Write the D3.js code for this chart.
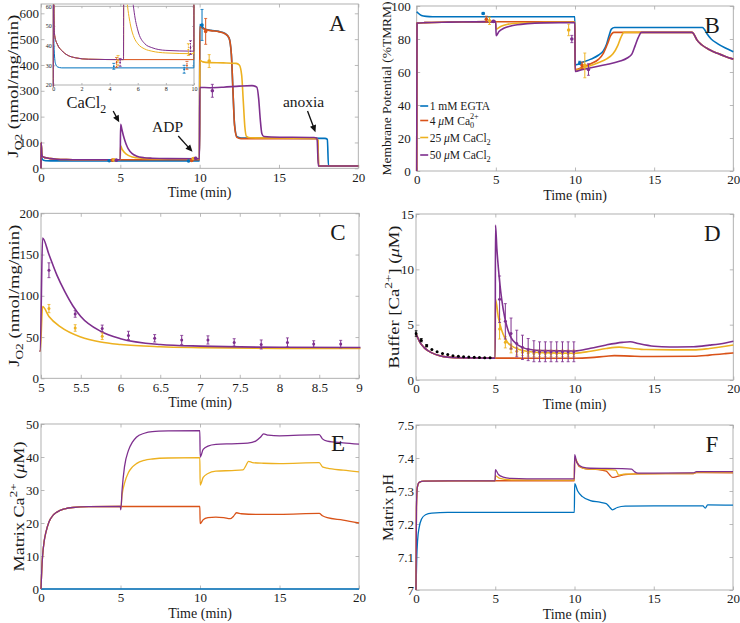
<!DOCTYPE html>
<html>
<head>
<meta charset="utf-8">
<script src="https://cdn.jsdelivr.net/npm/d3@7"></script>
<style>
  body { margin: 0; background: #fff; }
  svg text { font-family: "Liberation Serif", "Times New Roman", Times, serif; fill: #1a1a1a; }
</style>
</head>
<body>
<svg id="fig" width="740" height="623"></svg>
<script>

// series colours: 1 mM EGTA, 4 uM Ca0, 25 uM CaCl2, 50 uM CaCl2
const colors = ['#0072BD', '#D95319', '#EDB120', '#7E2F8E'];

// ---- A: J_O2 (nmol/mg/min) vs time (min)
const aPre = [[0, 0], [0.01, 100], [0.05, 55], [0.1, 45], [0.3, 40.5], [0.6, 37.5], [1, 35.2],
  [1.6, 33.8], [2.5, 33.1], [4.99, 32.9]];
const aBlue = [[0, 0], [0.01, 100], [0.05, 40], [0.15, 31], [0.3, 29.2], [0.6, 28.7], [9.99, 28.7],
  [10.01, 556], [10.3, 540], [10.7, 534], [11.2, 530], [11.6, 522], [11.85, 505], [12.0, 440],
  [12.1, 300], [12.2, 170], [12.35, 122], [12.6, 117], [15, 117], [17.9, 116], [18.05, 112],
  [18.12, 10], [20, 9]];
const aOrange = aPre.concat([[9.99, 32.9], [10.01, 548], [10.3, 538], [10.7, 533], [11.2, 529],
  [11.6, 521], [11.85, 505], [12.0, 440], [12.1, 300], [12.2, 165], [12.35, 120], [12.6, 115],
  [15, 115], [17.35, 115], [17.45, 108], [17.5, 9], [20, 9]]);
const aYellow = aPre.concat([[5.02, 87], [5.1, 75], [5.25, 62], [5.5, 50], [5.75, 44], [6, 41],
  [6.5, 38.3], [7, 37.2], [8, 36.3], [9.99, 35.9], [10.01, 418], [10.2, 412], [10.6, 409],
  [11.5, 408], [12.3, 406], [12.5, 400], [12.65, 360], [12.75, 260], [12.85, 160], [12.95, 124],
  [13.2, 118], [15, 117], [17.35, 116], [17.45, 108], [17.5, 9], [20, 9]]);
const aPurple = aPre.concat([[5.02, 170], [5.1, 150], [5.2, 125], [5.3, 105], [5.4, 88], [5.5, 75],
  [5.75, 57], [6, 48], [6.5, 41], [7, 39], [8, 37.6], [9.99, 37.2], [10.01, 313], [10.6, 312],
  [11.5, 314], [12.5, 318], [13.3, 320], [13.6, 314], [13.72, 270], [13.82, 190], [13.92, 135],
  [14.05, 123], [14.5, 121], [17.2, 119], [17.4, 116], [17.48, 9], [20, 9]]);
// measured points [t, mean, sd]
const aMarkBlue = [[4.3, 29.5, 1.5], [9.3, 28, 2], [10.15, 555, 60]];
const aMarkOrange = [[4.5, 31.5, 2.5], [9.5, 30, 2], [10.38, 530, 50]];
const aMarkYellow = [[4.6, 32.5, 2.5], [9.6, 38, 3], [10.6, 415, 25]];
const aMarkPurple = [[4.75, 31.5, 2], [9.75, 39, 3.5], [10.8, 300, 25]];
// annotations [text, subscript, textT, textV, fromT, fromV, toT, toV]
const aNotes = [
  ['CaCl', '2', 1.6, 235, 4.55, 222, 4.93, 178],
  ['ADP', '', 7.0, 140, 8.65, 125, 9.55, 64],
  ['anoxia', '', 15.25, 237, 16.8, 222, 17.3, 140]
];

// ---- B: membrane potential (%TMRM)
const bBlue = [[0, 96.5], [0.1, 95.6], [0.3, 94.3], [0.6, 93.7], [1, 93.5], [9.99, 93.5],
  [10.01, 64.3], [10.5, 66], [11, 67.8], [11.5, 70.3], [11.8, 73], [12.0, 77], [12.15, 82],
  [12.3, 86], [12.5, 87], [18.05, 87], [18.2, 85.5], [18.35, 83], [18.6, 80], [19, 77.2],
  [19.5, 74.5], [20, 72.3]];
const bPre = [[0, 0], [0.02, 89.6], [0.5, 89.9], [2, 90.2], [4.99, 90.5]];
const bTail = [[17.4, 84], [17.5, 83], [17.7, 79.5], [18, 76.5], [18.5, 73.5], [19, 71.3],
  [19.5, 69.4], [20, 67.8]];
const bOrange = bPre.concat([[9.99, 90.5], [10.01, 61.5], [10.5, 63], [11, 65], [11.5, 67.8],
  [11.8, 71.5], [12.05, 77], [12.25, 82], [12.45, 84]], bTail);
const bYellow = bPre.concat([[5.02, 86], [5.3, 87.6], [5.7, 88.8], [6.5, 89.7], [8, 90.1],
  [9.99, 90.3], [10.01, 61], [10.5, 62.5], [11, 64], [11.5, 65.8], [12, 68], [12.4, 71],
  [12.7, 76], [12.9, 81], [13.1, 84]], bTail);
const bPurple = bPre.concat([[5.02, 82], [5.2, 84.5], [5.5, 86.5], [6, 88], [7, 89.3], [8, 89.8],
  [9.99, 90], [10.01, 60.3], [10.5, 61.6], [11, 62.6], [12, 64.5], [12.8, 66.5], [13.3, 68.5],
  [13.6, 71], [13.8, 76], [14.0, 81], [14.2, 84]], bTail);
const bMarkBlue = [[4.2, 95.5, 0.6], [10.3, 65.5, 1]];
const bMarkOrange = [[4.4, 92, 1.8], [10.45, 64, 2]];
const bMarkYellow = [[4.6, 91, 2.2], [9.6, 85.5, 3.5], [10.62, 64, 7.5]];
const bMarkPurple = [[4.85, 90.7, 0.6], [9.8, 80, 2.2], [10.85, 61.5, 3.5]];
const legendLabels = [
  [['1 mM EGTA', '']],
  [['4 ', ''], ['μ', 'it'], ['M Ca', ''], ['0', 'sub'], ['2+', 'supback']],
  [['25 ', ''], ['μ', 'it'], ['M CaCl', ''], ['2', 'sub']],
  [['50 ', ''], ['μ', 'it'], ['M CaCl', ''], ['2', 'sub']]
];

// ---- C: J_O2 close-up 5-9 min (same model traces as A)
const cMarkPurple = [[5.1, 131, 9], [5.43, 78, 4], [5.77, 60.5, 4], [6.1, 52, 5], [6.43, 48.5, 4.5],
  [6.77, 46.5, 5.5], [7.1, 46.5, 5], [7.43, 43.5, 4.5], [7.77, 41, 5.5], [8.1, 43.5, 5.5],
  [8.43, 41.5, 4], [8.77, 41.5, 4.5]];
const cMarkYellow = [[5.1, 84.5, 5], [5.43, 61, 4], [5.77, 51, 4]];

// ---- D: buffer [Ca2+] (uM)
const dPre = [[0, 4.2], [0.25, 3.4], [0.5, 2.95], [0.75, 2.65], [1, 2.45], [1.5, 2.2], [2, 2.07],
  [3, 2.0], [4.99, 1.98]];
const dOrange = dPre.concat([[7, 1.97], [10, 1.97], [11, 2.02], [12, 2.15], [12.5, 2.2],
  [13.5, 2.16], [15, 2.12], [17.5, 2.15], [18.5, 2.25], [19.5, 2.38], [20, 2.45]]);
const dYellow = dPre.concat([[5.01, 7.3], [5.2, 5.6], [5.4, 4.5], [5.6, 3.8], [5.8, 3.35],
  [6, 3.1], [6.5, 2.75], [7, 2.6], [8, 2.47], [10, 2.42], [11, 2.6], [12, 2.85], [12.8, 2.97],
  [13.5, 2.87], [14.5, 2.75], [17.5, 2.72], [18.5, 2.85], [19.5, 3.05], [20, 3.17]]);
const dPurple = dPre.concat([[5.01, 14], [5.1, 11.8], [5.2, 10], [5.3, 8.5], [5.4, 7.3], [5.6, 5.6],
  [5.8, 4.5], [6, 3.8], [6.3, 3.3], [6.7, 2.95], [7.2, 2.75], [8, 2.65], [10, 2.62], [11, 2.87],
  [12, 3.17], [13, 3.4], [13.5, 3.46], [14, 3.3], [15, 3.05], [16, 2.98], [17.5, 3.0],
  [18.5, 3.15], [19.5, 3.35], [20, 3.5]]);
const dMarkBlack = [[0, 4.2, 0.25], [0.33, 3.6, 0.15], [0.67, 3.1, 0.1], [1, 2.75, 0], [1.33, 2.55, 0],
  [1.67, 2.4, 0], [2, 2.3, 0], [2.33, 2.2, 0], [2.67, 2.15, 0], [3, 2.1, 0], [3.33, 2.07, 0],
  [3.67, 2.05, 0], [4, 2.03, 0], [4.33, 2.02, 0], [4.67, 2.0, 0]];
const dMarkYellow = [[5.27, 4.6, 0.9], [5.63, 3.4, 0.5], [5.99, 2.85, 0.4], [6.35, 2.6, 0.35],
  [6.71, 2.5, 0.3], [7.07, 2.45, 0.3], [7.43, 2.4, 0.3], [7.79, 2.4, 0.3], [8.15, 2.4, 0.3],
  [8.51, 2.4, 0.3], [8.87, 2.4, 0.3], [9.23, 2.4, 0.3], [9.59, 2.4, 0.3], [9.95, 2.4, 0.3]];
const dMarkPurple = [[5.27, 7.3, 2.1], [5.63, 5.3, 1.6], [5.99, 4.2, 1.4], [6.35, 3.3, 1.2],
  [6.71, 2.95, 1.1], [7.07, 2.75, 1.0], [7.43, 2.6, 0.95], [7.79, 2.55, 0.9], [8.15, 2.55, 0.9],
  [8.51, 2.55, 0.9], [8.87, 2.55, 0.9], [9.23, 2.55, 0.9], [9.59, 2.55, 0.9], [9.95, 2.55, 0.9]];

// ---- E: matrix Ca2+ (uM)
const ePre = [[0, 0], [0.05, 6], [0.1, 10], [0.2, 14.5], [0.3, 17], [0.5, 20.3], [0.75, 22.3],
  [1, 23.3], [1.5, 24.3], [2, 24.7], [3, 24.95], [4.99, 25]];
const eBlue = [[0, 0], [20, 0]];
const eOrange = ePre.concat([[9.99, 25], [10.01, 19.8], [10.2, 21], [10.5, 21.6], [11, 21.8],
  [11.5, 21.6], [11.9, 21.3], [12.1, 22], [12.3, 23.1], [12.6, 22.8], [13.5, 22.6], [15, 22.6],
  [17.5, 22.9], [17.7, 22.2], [18, 21.6], [19, 20.9], [20, 20]]);
const eYellow = ePre.concat([[5.02, 24.5], [5.1, 28.5], [5.25, 32], [5.5, 35.3], [5.75, 37],
  [6, 38], [6.5, 39], [7, 39.4], [8, 39.7], [9.99, 39.8], [10.01, 31.5], [10.2, 33.8], [10.5, 35],
  [11, 35.7], [12, 35.9], [12.7, 36.1], [12.9, 37.5], [13.05, 38.7], [13.3, 38.3], [14, 38.1],
  [15, 38], [17.5, 38.3], [17.7, 37], [18, 36.6], [19, 36], [20, 35.5]]);
const ePurple = ePre.concat([[5.02, 24], [5.1, 30], [5.25, 37], [5.5, 42], [5.75, 44.5], [6, 46],
  [6.5, 47.2], [7, 47.7], [8, 47.9], [9.99, 48], [10.01, 40], [10.2, 42.3], [10.5, 43.3],
  [11, 43.8], [12, 44], [13, 44.2], [13.5, 44.8], [13.8, 46], [14, 47], [14.3, 46.6], [15, 46.4],
  [17.5, 46.8], [17.7, 45.5], [18, 44.8], [19, 44.3], [20, 43.9]]);

// ---- F: matrix pH
const fBlue = [[0, 7.0], [0.05, 7.1], [0.1, 7.15], [0.2, 7.19], [0.35, 7.215], [0.6, 7.228],
  [1, 7.233], [2, 7.235], [9.99, 7.235], [10.01, 7.322], [10.2, 7.3], [10.5, 7.283], [11, 7.271],
  [11.6, 7.266], [12, 7.262], [12.2, 7.252], [12.4, 7.243], [12.7, 7.25], [13.2, 7.254],
  [15, 7.255], [18.1, 7.255], [18.25, 7.248], [18.4, 7.258], [20, 7.257]];
const fPre = [[0, 7.0], [0.03, 7.25], [0.08, 7.31], [0.2, 7.326], [0.5, 7.33], [4.99, 7.331]];
const fOrange = fPre.concat([[9.99, 7.331], [10.01, 7.398], [10.3, 7.374], [10.7, 7.367],
  [11.5, 7.365], [12, 7.36], [12.2, 7.35], [12.4, 7.341], [12.7, 7.344], [13.2, 7.35], [14, 7.352],
  [17.5, 7.353], [17.7, 7.356], [20, 7.355]]);
const fYellow = fPre.concat([[5.01, 7.346], [5.3, 7.338], [6, 7.334], [9.99, 7.333], [10.01, 7.4],
  [10.3, 7.376], [10.8, 7.367], [12, 7.365], [12.6, 7.363], [12.8, 7.348], [13.1, 7.351],
  [14, 7.352], [17.5, 7.353], [17.7, 7.357], [20, 7.357]]);
const fPurple = fPre.concat([[5.01, 7.365], [5.2, 7.35], [5.5, 7.342], [6, 7.338], [7, 7.337],
  [9.99, 7.337], [10.01, 7.41], [10.15, 7.386], [10.5, 7.372], [11, 7.369], [13, 7.368],
  [13.6, 7.366], [13.8, 7.358], [14, 7.354], [15, 7.354], [17.5, 7.355], [17.7, 7.359],
  [20, 7.359]]);

const timeTicks = [0, 5, 10, 15, 20];


const svg = d3.select('#fig');
const frameColor = '#a8a8a8';


function richText(text, parts, size) {
  let shift = 0;
  parts.forEach(([s, kind]) => {
    let target = 0;
    if (kind === 'sub') target = size * 0.3;
    if (kind === 'sup' || kind === 'supback') target = -size * 0.45;
    const t = text.append('tspan').text(s).attr('dy', target - shift);
    if (kind !== '' && kind !== 'it') t.attr('font-size', size * 0.72);
    if (kind === 'it') t.attr('font-style', 'italic');
    // stack the superscript over the preceding subscript
    if (kind === 'supback') t.attr('dx', -size * 0.36);
    shift = target;
  });
}


function drawPanel(cfg) {
  const g = svg.append('g').attr('transform', `translate(${cfg.left},${cfg.top})`);
  const x = d3.scaleLinear().domain(cfg.xDomain).range([0, cfg.width]);
  const y = d3.scaleLinear().domain(cfg.yDomain).range([cfg.height, 0]);
  const tick = cfg.tickLen || 3.5;
  const fs = cfg.tickFont || 13;
  g.append('rect')
      .attr('width', cfg.width)
      .attr('height', cfg.height)
      .attr('fill', '#fff');
  g.append('clipPath')
      .attr('id', `clip-${cfg.id}`)
    .append('rect')
      .attr('x', -1.5).attr('y', -1.5)
      .attr('width', cfg.width + 3)
      .attr('height', cfg.height + 3);

  const fmt = cfg.format || d3.format('');
  const axes = [
    [d3.axisBottom(x).tickValues(cfg.xTicks).tickFormat(fmt), `translate(0,${cfg.height})`, true, 4],
    [d3.axisTop(x).tickValues(cfg.xTicks).tickFormat(''), 'translate(0,0)', false, 4],
    [d3.axisLeft(y).tickValues(cfg.yTicks).tickFormat(fmt), 'translate(0,0)', true, cfg.yPad || 2],
    [d3.axisRight(y).tickValues(cfg.yTicks).tickFormat(''), `translate(${cfg.width},0)`, false, 4]
  ];
  axes.forEach(([axis, tr, labelled, pad]) => {
    const a = g.append('g')
        .attr('transform', tr)
        .call(axis.tickSizeInner(-tick).tickSizeOuter(0).tickPadding(cfg.tickPad || pad));
    a.select('.domain').remove();
    a.selectAll('line').attr('stroke', frameColor).attr('stroke-width', 0.8);
    a.selectAll('text')
        .attr('font-size', fs)
        .attr('fill', '#1a1a1a')
        .style('font-family', '"Liberation Serif", "Times New Roman", serif');
    if (!labelled) a.selectAll('text').remove();
  });
  g.append('rect')
      .attr('width', cfg.width)
      .attr('height', cfg.height)
      .attr('fill', 'none')
      .attr('stroke', frameColor)
      .attr('stroke-width', 0.9);

  const plot = g.append('g').attr('clip-path', `url(#clip-${cfg.id})`);
  const line = d3.line()
      .x(d => x(d[0]))
      .y(d => y(d[1]))
      .curve(d3.curveMonotoneX);
  cfg.series.forEach(([data, color]) => {
    plot.append('path')
        .datum(data)
        .attr('d', line)
        .attr('fill', 'none')
        .attr('stroke', color)
        .attr('stroke-width', cfg.lineWidth || 1.6)
        .attr('stroke-linejoin', 'round');
  });
  (cfg.marks || []).forEach(([data, color]) => {
    const m = plot.append('g').selectAll('g').data(data).enter().append('g');
    m.append('line')
        .attr('x1', d => x(d[0])).attr('x2', d => x(d[0]))
        .attr('y1', d => y(d[1] - d[2])).attr('y2', d => y(d[1] + d[2]))
        .attr('stroke', color)
        .attr('stroke-width', 1)
        .attr('stroke-dasharray', cfg.dashedBars ? '1.5,1' : null);
    [-1, 1].forEach(s => {
      m.filter(d => d[2] > 0).append('line')
          .attr('x1', d => x(d[0]) - 1.5).attr('x2', d => x(d[0]) + 1.5)
          .attr('y1', d => y(d[1] + s * d[2])).attr('y2', d => y(d[1] + s * d[2]))
          .attr('stroke', color)
          .attr('stroke-width', 0.8);
    });
    m.append('circle')
        .attr('cx', d => x(d[0]))
        .attr('cy', d => y(d[1]))
        .attr('r', cfg.markR || 1.8)
        .attr('fill', color);
  });

  // axis titles
  if (cfg.xLabel) {
    g.append('text')
        .attr('x', cfg.width / 2)
        .attr('y', cfg.height + 29)
        .attr('text-anchor', 'middle')
        .attr('font-size', 14)
        .text(cfg.xLabel);
  }
  if (cfg.yLabel) {
    const t = g.append('text')
        .attr('transform', `translate(${cfg.yLabelX},${cfg.height / 2}) rotate(-90)`)
        .attr('text-anchor', 'middle')
        .attr('font-size', cfg.yLabelSize);
    if (cfg.yLabelLen) {
      t.attr('textLength', cfg.yLabelLen).attr('lengthAdjust', 'spacingAndGlyphs');
    }
    richText(t, cfg.yLabel, cfg.yLabelSize);
  }
  if (cfg.letter) {
    g.append('text')
        .attr('x', cfg.width - 21)
        .attr('y', 27)
        .attr('text-anchor', 'middle')
        .attr('font-size', 23)
        .text(cfg.letter);
  }
  return {g, x, y};
}


const [cB, cO, cY, cP] = colors;

// A
const panelA = drawPanel({
  id: 'A', left: 41, top: 4, width: 317.3, height: 164.3,
  xDomain: [0, 20], yDomain: [0, 636], xTicks: timeTicks, yTicks: d3.range(0, 601, 100),
  series: [[aBlue, cB], [aOrange, cO], [aYellow, cY], [aPurple, cP]],
  marks: [[aMarkBlue, cB], [aMarkOrange, cO], [aMarkYellow, cY], [aMarkPurple, cP]],
  xLabel: 'Time (min)', yLabelX: -23, yLabelSize: 14, yLabelLen: 143,
  yLabel: [['J', ''], ['O2', 'sub'], [' (nmol/mg/min)', '']],
  letter: 'A'
});
aNotes.forEach(([txt, sub, tt, tv, ft, fv, et, ev]) => {
  const {g, x, y} = panelA;
  const size = txt === 'CaCl' ? 16.5 : 15.5;
  const t = g.append('text')
      .attr('x', x(tt)).attr('y', y(tv))
      .attr('font-size', size);
  richText(t, sub ? [[txt, ''], [sub, 'sub']] : [[txt, '']], size);
  const x1 = x(ft), y1 = y(fv), x2 = x(et), y2 = y(ev);
  const ang = Math.atan2(y2 - y1, x2 - x1);
  g.append('line')
      .attr('x1', x1).attr('y1', y1)
      .attr('x2', x2 - 5 * Math.cos(ang)).attr('y2', y2 - 5 * Math.sin(ang))
      .attr('stroke', '#111').attr('stroke-width', 1.3);
  const head = [[0, 0], [-7, -3.2], [-7, 3.2]];
  g.append('path')
      .attr('d', d3.line()(head) + 'Z')
      .attr('transform', `translate(${x2},${y2}) rotate(${ang * 180 / Math.PI})`)
      .attr('fill', '#111');
});

// A inset
drawPanel({
  id: 'inset', left: 53.3, top: 6.3, width: 140.7, height: 78.7,
  xDomain: [0, 10], yDomain: [20, 60], xTicks: d3.range(0, 11, 2), yTicks: d3.range(20, 61, 10),
  tickLen: 2, tickFont: 6, tickPad: 1.5, lineWidth: 1, markR: 0.9, dashedBars: true,
  series: [[aBlue, cB], [aOrange, cO], [aYellow, cY], [aPurple, cP]],
  marks: [[aMarkBlue.slice(0, 2), cB], [aMarkOrange.slice(0, 2), cO],
    [aMarkYellow.slice(0, 2), cY], [aMarkPurple.slice(0, 2), cP]]
});

// B
const panelB = drawPanel({
  id: 'B', left: 416.7, top: 6, width: 316.6, height: 165,
  xDomain: [0, 20], yDomain: [0, 100], xTicks: timeTicks, yTicks: d3.range(0, 101, 20),
  yPad: 6,
  series: [[bBlue, cB], [bOrange, cO], [bYellow, cY], [bPurple, cP]],
  marks: [[bMarkBlue, cB], [bMarkOrange, cO], [bMarkYellow, cY], [bMarkPurple, cP]],
  xLabel: 'Time (min)', yLabelX: -26, yLabelSize: 13.5, yLabelLen: 174,
  yLabel: [['Membrane Potential (%TMRM)', '']],
  letter: 'B'
});
const legend = panelB.g.append('g');
legendLabels.forEach((parts, i) => {
  const ly = 100 + [0, 14.5, 31.5, 49][i];
  legend.append('line')
      .attr('x1', 3.5).attr('x2', 11.5)
      .attr('y1', ly).attr('y2', ly)
      .attr('stroke', colors[i]).attr('stroke-width', 1.6);
  const t = legend.append('text')
      .attr('x', 13).attr('y', ly + 4)
      .attr('font-size', 11.5);
  richText(t, parts, 11.5);
});

// C
drawPanel({
  id: 'C', left: 41, top: 213.3, width: 318, height: 165,
  xDomain: [5, 9], yDomain: [0, 200], xTicks: d3.range(5, 9.01, 0.5), yTicks: d3.range(0, 201, 50),
  series: [[aYellow, cY], [aPurple, cP]],
  marks: [[cMarkYellow, cY], [cMarkPurple, cP]], markR: 1.5,
  xLabel: 'Time (min)', yLabelX: -22, yLabelSize: 14, yLabelLen: 142,
  yLabel: [['J', ''], ['O2', 'sub'], [' (nmol/mg/min)', '']],
  letter: 'C'
});

// D
drawPanel({
  id: 'D', left: 416, top: 214, width: 317.3, height: 166,
  xDomain: [0, 20], yDomain: [0, 15], xTicks: timeTicks, yTicks: d3.range(0, 16, 5),
  series: [[dOrange, cO], [dYellow, cY], [dPurple, cP]],
  marks: [[dMarkBlack, '#000'], [dMarkYellow, cY], [dMarkPurple, cP]], markR: 1.5,
  xLabel: 'Time (min)', yLabelX: -17, yLabelSize: 14.5, yLabelLen: 143,
  yLabel: [['Buffer [Ca', ''], ['2+', 'sup'], ['] (', ''], ['μ', 'it'], ['M)', '']],
  letter: 'D'
});

// E
drawPanel({
  id: 'E', left: 41, top: 424, width: 318, height: 165,
  xDomain: [0, 20], yDomain: [0, 50], xTicks: timeTicks, yTicks: d3.range(0, 51, 10),
  series: [[eBlue, cB], [eOrange, cO], [eYellow, cY], [ePurple, cP]], lineWidth: 1.3,
  xLabel: 'Time (min)', yLabelX: -17, yLabelSize: 14.5, yLabelLen: 130,
  yLabel: [['Matrix Ca', ''], ['2+', 'sup'], [' (', ''], ['μ', 'it'], ['M)', '']],
  letter: 'E'
});

// F
drawPanel({
  id: 'F', left: 416, top: 425, width: 317, height: 165,
  xDomain: [0, 20], yDomain: [7, 7.5], xTicks: timeTicks, yTicks: [7, 7.1, 7.2, 7.3, 7.4, 7.5],
  series: [[fBlue, cB], [fOrange, cO], [fYellow, cY], [fPurple, cP]], lineWidth: 1.3,
  xLabel: 'Time (min)', yLabelX: -23, yLabelSize: 14.5, yLabelLen: 67,
  yLabel: [['Matrix pH', '']],
  letter: 'F'
});

</script>
</body>
</html>
